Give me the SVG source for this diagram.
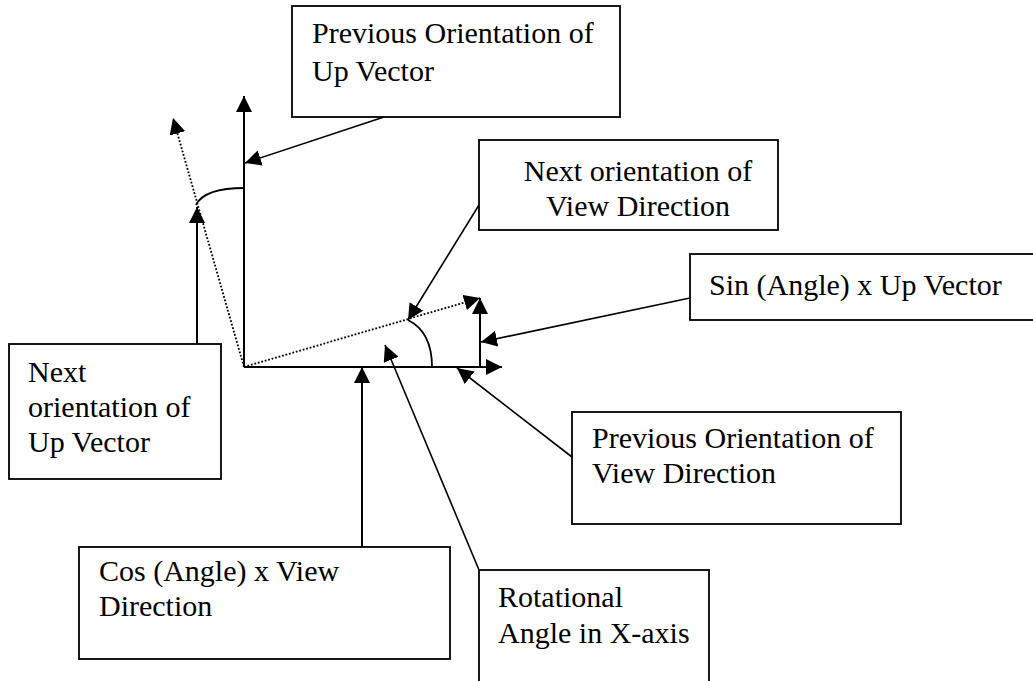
<svg xmlns="http://www.w3.org/2000/svg" width="1033" height="681" viewBox="0 0 1033 681">
  <style>
    .box { fill: #fff; stroke: #000; stroke-width: 1.8; }
    .lbl { font-family: "Liberation Serif", "Times New Roman", serif; font-size: 30px; fill: #000; }
    .axis { stroke: #000; stroke-width: 2; fill: none; }
    .call { stroke: #000; stroke-width: 1.6; fill: none; }
    .dot { stroke: #000; stroke-width: 1.8; fill: none; stroke-dasharray: 1.8 1.8; }
    .arc { stroke: #000; stroke-width: 1.8; fill: none; }
  </style>
  <defs>
    <marker id="ah" viewBox="0 0 16 16" refX="16" refY="8" markerWidth="16" markerHeight="16" markerUnits="userSpaceOnUse" orient="auto">
      <path d="M0,0 L16,8 L0,16 z" fill="#000" stroke="none"/>
    </marker>
  </defs>

  <rect width="1033" height="681" fill="#fff"/>

  <!-- vectors, angles and callout leaders -->
  <g id="connectors">
    <!-- previous up vector -->
    <line class="axis" x1="244" y1="367" x2="244" y2="96" marker-end="url(#ah)"/>
    <!-- previous view direction -->
    <line class="axis" x1="244" y1="367" x2="502" y2="367" marker-end="url(#ah)"/>
    <!-- rotated up vector -->
    <line class="dot" x1="244" y1="367" x2="173" y2="118" marker-end="url(#ah)"/>
    <!-- rotated view direction -->
    <line class="dot" x1="244" y1="367" x2="480" y2="298" marker-end="url(#ah)"/>
    <!-- sin component -->
    <line class="axis" x1="480" y1="367" x2="480" y2="298" marker-end="url(#ah)"/>
    <!-- angle arcs -->
    <path class="arc" d="M196,205 Q204,188 245,188"/>
    <path class="arc" d="M408,320 Q432,332 432,367"/>
    <!-- leaders -->
    <line class="call" x1="384" y1="117" x2="245" y2="163" marker-end="url(#ah)"/>
    <line class="call" x1="479" y1="205" x2="408" y2="320" marker-end="url(#ah)"/>
    <line class="call" x1="690" y1="298" x2="481" y2="342" marker-end="url(#ah)"/>
    <line class="call" x1="572" y1="457" x2="457" y2="368" marker-end="url(#ah)"/>
    <line class="call" x1="479" y1="570" x2="385" y2="345" marker-end="url(#ah)"/>
    <line class="axis" x1="197" y1="344" x2="197" y2="207" marker-end="url(#ah)"/>
    <line class="axis" x1="362" y1="547" x2="362" y2="367" marker-end="url(#ah)"/>
  </g>

  <g id="prev-up">
    <rect class="box" x="292" y="6" width="328" height="111"/>
    <text class="lbl" x="312" y="43">Previous Orientation of</text>
    <text class="lbl" x="312" y="81">Up Vector</text>
  </g>

  <g id="next-view">
    <rect class="box" x="479" y="140" width="299" height="90"/>
    <text class="lbl" x="638" y="181" text-anchor="middle">Next orientation of</text>
    <text class="lbl" x="638" y="216" text-anchor="middle">View Direction</text>
  </g>

  <g id="sin-up">
    <rect class="box" x="690" y="254" width="350" height="66"/>
    <text class="lbl" x="709" y="295">Sin (Angle) x Up Vector</text>
  </g>

  <g id="next-up">
    <rect class="box" x="9" y="344" width="212" height="135"/>
    <text class="lbl" x="28" y="382">Next</text>
    <text class="lbl" x="28" y="417">orientation of</text>
    <text class="lbl" x="28" y="452">Up Vector</text>
  </g>

  <g id="prev-view">
    <rect class="box" x="572" y="412" width="329" height="112"/>
    <text class="lbl" x="592" y="448">Previous Orientation of</text>
    <text class="lbl" x="592" y="483">View Direction</text>
  </g>

  <g id="cos-view">
    <rect class="box" x="79" y="547" width="371" height="112"/>
    <text class="lbl" x="99" y="581">Cos (Angle) x View</text>
    <text class="lbl" x="99" y="616">Direction</text>
  </g>

  <g id="rot-angle">
    <rect class="box" x="479" y="570" width="230" height="130"/>
    <text class="lbl" x="498" y="607">Rotational</text>
    <text class="lbl" x="498" y="643">Angle in X-axis</text>
  </g>
</svg>
